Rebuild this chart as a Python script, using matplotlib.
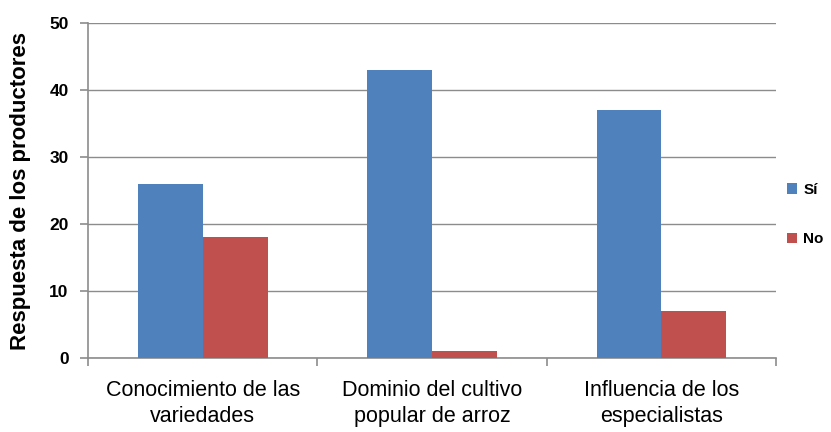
import matplotlib
matplotlib.use("Agg")
import matplotlib.pyplot as plt
import numpy as np
from matplotlib.ticker import FixedLocator

categories = ["Conocimiento de las\nvariedades", "Dominio del cultivo\npopular de arroz", "Influencia de los\nespecialistas"]
si_values = [26, 43, 37]
no_values = [18, 1, 7]
series_names = ["Sí", "No"]
yticks = [0, 10, 20, 30, 40, 50]

fam = ["Liberation Sans", "DejaVu Sans"]

fig = plt.figure(figsize=(8.31, 4.32), dpi=100)
ax = fig.add_axes([0.106, 0.171, 0.828, 0.776])

x = np.arange(len(categories))
w = 0.283
ax.bar(x - w/2, si_values, w, color="#4F81BD", label=series_names[0], zorder=3)
ax.bar(x + w/2, no_values, w, color="#C0504D", label=series_names[1], zorder=3)

ax.set_xlim(-0.5, len(categories) - 0.5)
ax.set_ylim(0, 50)
ax.set_yticks(yticks)
ax.yaxis.grid(True, color="#8c8c8c", linewidth=1.0, zorder=0)
for s in ["top", "right"]:
    ax.spines[s].set_visible(False)
for s in ["left", "bottom"]:
    ax.spines[s].set_color("#8c8c8c")
    ax.spines[s].set_linewidth(1.2)

ax.set_xticks(x)
ax.set_xticklabels(categories, fontsize=15.5, family=fam, linespacing=1.3)
ax.xaxis.set_minor_locator(FixedLocator(np.arange(-0.5, len(categories), 1.0)))
ax.tick_params(axis="x", which="major", length=0, pad=16)
ax.tick_params(axis="x", which="minor", length=6, color="#8c8c8c", width=1.2)
ax.tick_params(axis="y", length=6, color="#8c8c8c", width=1.2, labelsize=12.5, pad=8)
for t in ax.get_yticklabels():
    t.set_fontweight("bold")
    t.set_family(fam)

ax.set_ylabel("Respuesta de los productores", fontsize=16, fontweight="bold",
              family=fam)
ax.yaxis.set_label_coords(-0.083, 0.5)

leg = fig.legend(loc="center left", bbox_to_anchor=(0.93, 0.503), frameon=False,
                 handlelength=0.7, handleheight=0.7, handletextpad=0.4, labelspacing=2.3,
                 prop={"family": fam, "size": 11, "weight": "bold"})

fig.savefig("out.png", dpi=100)
